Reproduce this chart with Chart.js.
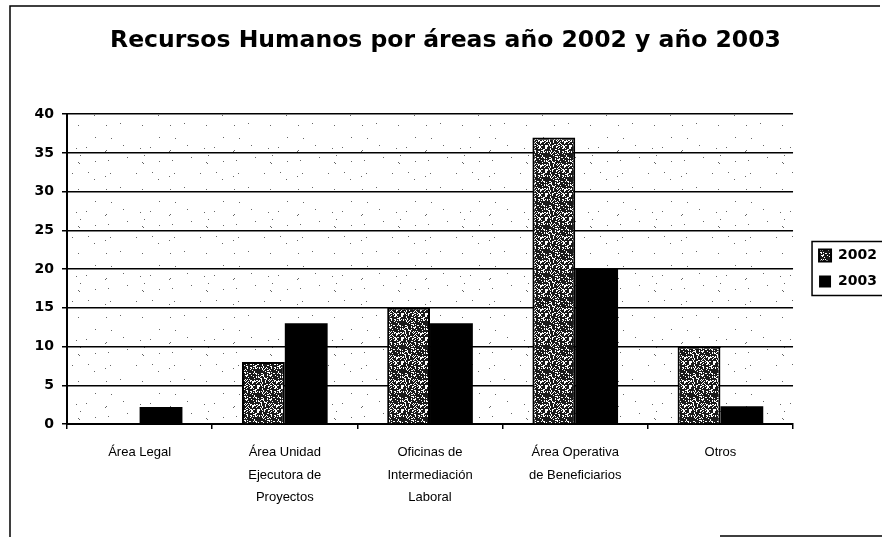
<!DOCTYPE html>
<html>
<head>
<meta charset="utf-8">
<script src="https://cdn.jsdelivr.net/npm/chart.js@4.4.1/dist/chart.umd.min.js"></script>
<style>
  html, body { margin: 0; padding: 0; background: #fff; }
  #wrap { width: 882px; height: 537px; }
</style>
</head>
<body>
<div id="wrap"><canvas id="barChart" width="882" height="537"></canvas></div>
<script>
const categories = [
    "Área Legal",
    ["Área Unidad", "Ejecutora de", "Proyectos"],
    ["Oficinas de", "Intermediación", "Laboral"],
    ["Área Operativa", "de Beneficiarios"],
    "Otros"
];
const values2002 = [0, 8, 15, 37, 10];
const values2003 = [2.2, 13, 13, 20, 2.3];
const yTicks = [0, 5, 10, 15, 20, 25, 30, 35, 40];

// small tiles to imitate the scanned stipple
const makeTile = (size, bg, fg, count, seed) => {
    const c = document.createElement("canvas");
    c.width = size; c.height = size;
    const g = c.getContext("2d");
    g.fillStyle = bg;
    g.fillRect(0, 0, size, size);
    g.fillStyle = fg;
    let s = seed;
    const next = () => {
        s = (s * 1103515245 + 12345) % 2147483648;
        return Math.floor(s / 65536) % size;
    };
    for (let i = 0; i < count; i++) {
        const x = next();
        const y = next();
        g.fillRect(x, y, 1, 1);
    }
    return document.getElementById("barChart").getContext("2d").createPattern(c, "repeat");
};

const stipple = makeTile(24, "#1a1a1a", "#ffffff", 190, 11);
const plotDots = makeTile(64, "#ffffff", "#666666", 22, 5);

const frame = {
    id: "frame",
    afterLayout(chart) {
        // push the legend a bit further right, like the original
        const lg = chart.legend;
        lg.left += 14;
        lg.right += 14;
    },
    beforeDraw(chart) {
        const { ctx, chartArea: a } = chart;
        ctx.save();
        ctx.fillStyle = plotDots;
        ctx.fillRect(a.left, a.top, a.right - a.left, a.bottom - a.top);
        ctx.strokeStyle = "#000";
        ctx.lineWidth = 1.5;
        ctx.beginPath();
        ctx.moveTo(10, 537);
        ctx.lineTo(10, 6);
        ctx.lineTo(880, 6);
        ctx.moveTo(720, 536);
        ctx.lineTo(882, 536);
        ctx.stroke();
        ctx.restore();
    },
    afterDraw(chart) {
        const lg = chart.legend;
        const boxes = lg.legendHitBoxes;
        if (!boxes || !boxes.length) return;
        const { ctx } = chart;
        const first = boxes[0];
        const last = boxes[boxes.length - 1];
        ctx.save();
        ctx.strokeStyle = "#000";
        ctx.lineWidth = 1.5;
        ctx.strokeRect(lg.left + 5, first.top - 7, chart.width, last.top + last.height - first.top + 14);
        ctx.restore();
    }
};

const data = {
    labels: categories,
    datasets: [{
        label: "2002",
        data: values2002,
        backgroundColor: stipple,
        borderColor: "#000",
        borderWidth: 2
    }, {
        label: "2003",
        data: values2003,
        backgroundColor: "#000",
        borderColor: "#000",
        borderWidth: 0
    }]
};

const options = {
    animation: false,
    responsive: false,
    layout: { padding: { left: 18, right: 9, top: 0, bottom: 0 } },
    datasets: {
        bar: { categoryPercentage: 0.59, barPercentage: 1 }
    },
    plugins: {
        title: {
            display: true,
            text: "Recursos Humanos por áreas año 2002 y año 2003",
            color: "#000",
            font: { family: "DejaVu Sans", size: 23.5, weight: "bold" },
            padding: { top: 27, bottom: 59 }
        },
        legend: {
            position: "right",
            labels: {
                color: "#000",
                font: { family: "DejaVu Sans", size: 14, weight: "bold" },
                boxWidth: 12,
                boxHeight: 12,
                padding: 12
            }
        },
        tooltip: { enabled: false }
    },
    scales: {
        x: {
            grid: {
                display: true,
                drawOnChartArea: false,
                color: "#000",
                lineWidth: 1.5,
                tickLength: 5,
                offset: true
            },
            border: { color: "#000", width: 2 },
            ticks: {
                color: "#000",
                maxRotation: 0,
                autoSkip: false,
                padding: 12,
                font: { family: "Liberation Sans", size: 13, lineHeight: 1.75 }
            },
            afterFit(scale) { scale.height = 113; }
        },
        y: {
            min: 0,
            max: 40,
            afterBuildTicks(scale) { scale.ticks = yTicks.map(v => ({ value: v })); },
            grid: { color: "#000", lineWidth: 1.5, tickLength: 5 },
            border: { color: "#000", width: 2 },
            ticks: {
                color: "#000",
                padding: 8,
                font: { family: "DejaVu Sans", size: 14, weight: "bold" }
            },
            afterFit(scale) { scale.width = 49; }
        }
    }
};

new Chart(document.getElementById("barChart"), {
    type: "bar",
    data,
    options,
    plugins: [frame]
});
</script>
</body>
</html>
